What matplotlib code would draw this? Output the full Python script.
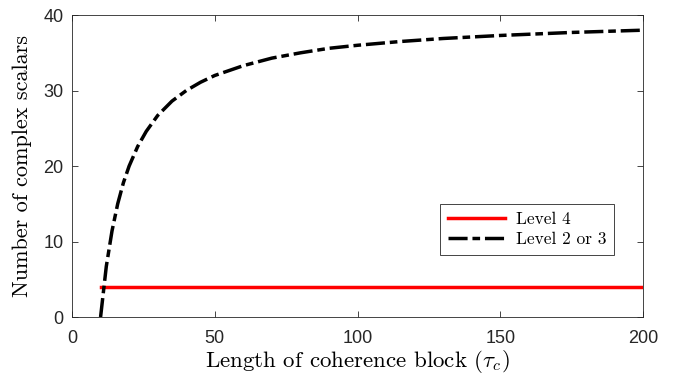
import matplotlib
matplotlib.use("Agg")
import matplotlib.pyplot as plt

plt.rcParams["mathtext.fontset"] = "cm"

# values
tau_c = [10, 12, 14, 16, 18, 20, 23, 26, 30, 35, 40, 45, 50, 60, 70, 80, 90,
         100, 115, 130, 150, 175, 200]
level23 = [0, 6.7, 11.4, 15.0, 17.8, 20.0, 22.6, 24.6, 26.7, 28.6, 30.0, 31.1,
           32.0, 33.3, 34.3, 35.0, 35.6, 36.0, 36.5, 36.9, 37.3, 37.7, 38.0]
level4_x = [10, 200]
level4_y = [4, 4]

fig = plt.figure(figsize=(6.75, 3.77), dpi=100)
ax = fig.add_axes([0.1067, 0.159, 0.846, 0.801])

ax.plot(level4_x, level4_y, color="red", linewidth=2.5, label="Level 4")
ax.plot(tau_c, level23, color="black", linewidth=2.5, linestyle=(0, (5.5, 1.4, 2.2, 1.4)),
        label="Level 2 or 3")

ax.set_xlim(0, 200)
ax.set_ylim(0, 40)
ax.set_xticks([0, 50, 100, 150, 200])
ax.set_yticks([0, 10, 20, 30, 40])

for s in ax.spines.values():
  s.set_color("#262626")
  s.set_linewidth(0.6)
ax.tick_params(direction="in", top=True, right=True, length=4, width=0.6,
               color="#262626", labelsize=13)
ax.tick_params(axis="x", pad=9)
ax.tick_params(axis="y", pad=6)
for lab in ax.get_xticklabels() + ax.get_yticklabels():
  lab.set_family("Liberation Sans")
  lab.set_color("#262626")

ax.set_xlabel(r"Length of coherence block ($\tau_c$)", family="cmr10", fontsize=16.5, labelpad=1)
ax.set_ylabel("Number of complex scalars", family="cmr10", fontsize=16, labelpad=8)

leg = ax.legend(loc="center", bbox_to_anchor=(0.797, 0.29), prop={"family": "cmr10", "size": 12.5},
                fancybox=False, edgecolor="#262626", framealpha=1, handlelength=3.3,
                borderpad=0.45, labelspacing=0.25, handletextpad=0.6)
leg.get_frame().set_linewidth(0.6)

fig.savefig("out.png", dpi=100)
